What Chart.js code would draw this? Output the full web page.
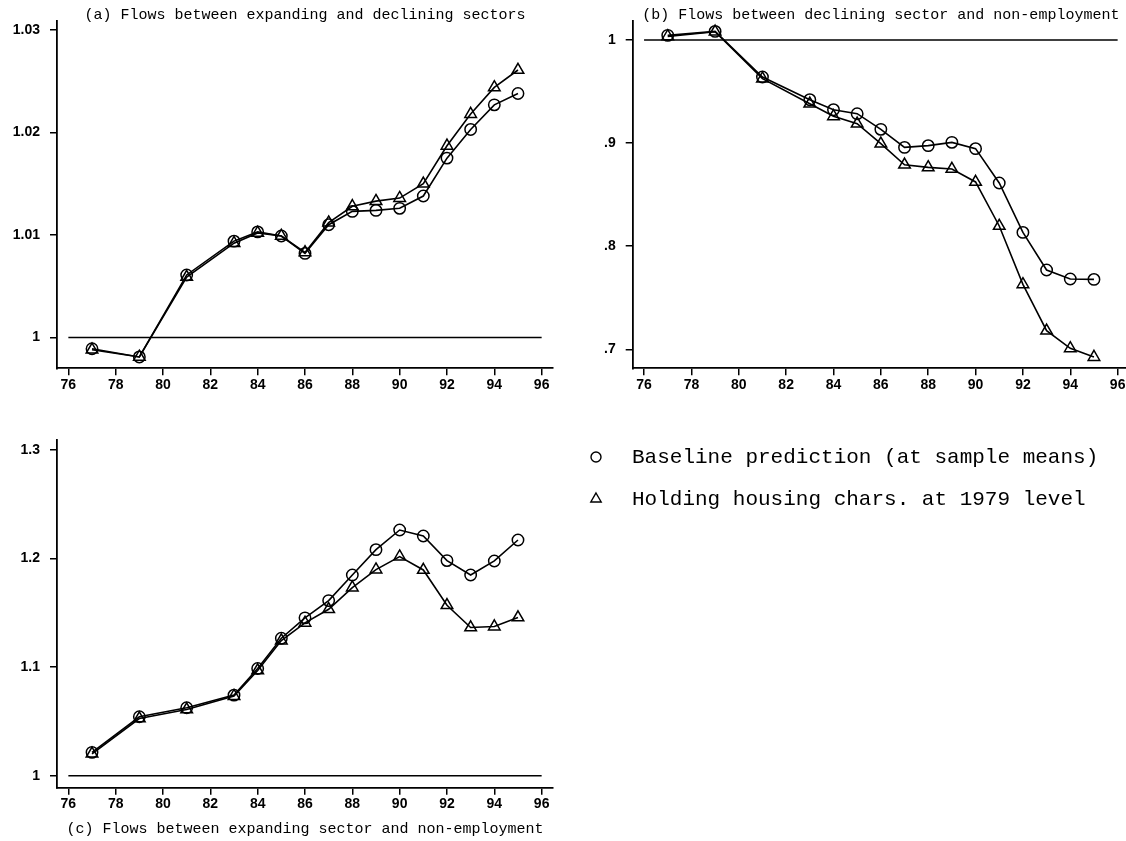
<!DOCTYPE html>
<html>
<head>
<meta charset="utf-8">
<script src="https://cdn.jsdelivr.net/npm/chart.js@4.4.1/dist/chart.umd.min.js"></script>
<style>
  html, body { margin: 0; padding: 0; background: #fff; }
  body { width: 1126px; height: 841px; overflow: hidden; position: relative; }
  canvas { position: absolute; }
  #panelA { left: 0; top: 0; }
  #panelB { left: 580px; top: 0; }
  #panelC { left: 0; top: 420px; }
  #legendBox { left: 570px; top: 420px; }
</style>
</head>
<body>
<canvas id="panelA" width="604" height="400"></canvas>
<canvas id="panelB" width="598" height="400"></canvas>
<canvas id="panelC" width="604" height="421"></canvas>
<canvas id="legendBox" width="556" height="120"></canvas>
<script>
// Survey years
const years = [77, 79, 81, 83, 84, 85, 86, 87, 88, 89, 90, 91, 92, 93, 94, 95];

// Series labels
const seriesLabels = ['Baseline prediction (at sample means)', 'Holding housing chars. at 1979 level'];

// (a) expanding <-> declining sectors
const aBaseline = [0.9989, 0.9981, 1.0061, 1.0094, 1.0103, 1.0099, 1.0082, 1.0110, 1.0123, 1.0124, 1.0126, 1.0138, 1.0175, 1.0203, 1.0227, 1.0238];
const aHousing  = [0.9988, 0.9981, 1.0059, 1.0092, 1.0102, 1.0099, 1.0083, 1.0112, 1.0128, 1.0133, 1.0136, 1.0150, 1.0187, 1.0218, 1.0244, 1.0261];

// (b) declining sector <-> non-employment
const bBaseline = [1.0045, 1.0083, 0.9641, 0.9421, 0.9324, 0.9285, 0.9133, 0.8958, 0.8975, 0.9007, 0.8946, 0.8613, 0.8134, 0.7769, 0.7682, 0.7678];
const bHousing  = [1.0035, 1.0080, 0.9625, 0.9382, 0.9260, 0.9188, 0.8994, 0.8790, 0.8764, 0.8749, 0.8623, 0.8196, 0.7630, 0.7180, 0.7009, 0.6925];

// (c) expanding sector <-> non-employment
const cBaseline = [1.0215, 1.0543, 1.0626, 1.0742, 1.0987, 1.1266, 1.1454, 1.1613, 1.1849, 1.2082, 1.2263, 1.2208, 1.1981, 1.1849, 1.1978, 1.2171];
const cHousing  = [1.0202, 1.0527, 1.0610, 1.0733, 1.0969, 1.1245, 1.1408, 1.1533, 1.1733, 1.1898, 1.2018, 1.1895, 1.1570, 1.1365, 1.1374, 1.1457];

// Reference level
const refLevel = 1;
const refSpan = [76, 96];

// Tick values and labels
const xTicks  = [76, 78, 80, 82, 84, 86, 88, 90, 92, 94, 96];
const xLabels = ['76', '78', '80', '82', '84', '86', '88', '90', '92', '94', '96'];
const yTicksA  = [1, 1.01, 1.02, 1.03];
const yLabelsA = ['1', '1.01', '1.02', '1.03'];
const yTicksB  = [0.7, 0.8, 0.9, 1];
const yLabelsB = ['.7', '.8', '.9', '1'];
const yTicksC  = [1, 1.1, 1.2, 1.3];
const yLabelsC = ['1', '1.1', '1.2', '1.3'];

// Panel titles
const titleA = '(a) Flows between expanding and declining sectors';
const titleB = '(b) Flows between declining sector and non-employment';
const titleC = '(c) Flows between expanding sector and non-employment';

const INK = '#000';
const TICK_FONT = { family: '"Liberation Sans", Arial, sans-serif', size: 14, weight: 'bold' };
const TITLE_FONT = { family: '"Liberation Mono", "DejaVu Sans Mono", monospace', size: 15, weight: 'normal', lineHeight: 1.2 };

function pts(vals) {
  return years.map((yr, i) => ({ x: yr, y: vals[i] }));
}

function makePanel(id, p) {
  return new Chart(document.getElementById(id), {
    type: 'line',
    data: {
      datasets: [
        {
          label: seriesLabels[0],
          data: pts(p.base),
          borderColor: INK, borderWidth: 1.6,
          pointStyle: 'circle', pointRadius: 5.7,
          pointBorderColor: INK, pointBorderWidth: 1.5,
          pointBackgroundColor: 'rgba(0,0,0,0)',
          tension: 0
        },
        {
          label: seriesLabels[1],
          data: pts(p.hold),
          borderColor: INK, borderWidth: 1.6,
          pointStyle: 'triangle', pointRadius: 6.7,
          pointBorderColor: INK, pointBorderWidth: 1.5,
          pointBackgroundColor: 'rgba(0,0,0,0)',
          tension: 0
        },
        {
          label: 'ref',
          data: refSpan.map(x => ({ x: x, y: refLevel })),
          borderColor: INK, borderWidth: 1.6,
          pointRadius: 0
        }
      ]
    },
    options: {
      responsive: false,
      animation: false,
      events: [],
      layout: { padding: p.pad },
      plugins: {
        legend: { display: false },
        tooltip: { enabled: false }
      },
      scales: {
        x: {
          type: 'linear',
          position: 'bottom',
          min: 75.52, max: 96.48,
          afterBuildTicks: s => { s.ticks = xTicks.map(v => ({ value: v })); },
          afterFit: s => { s.height = p.xHeight; },
          ticks: {
            color: INK, font: TICK_FONT, padding: 1,
            maxRotation: 0, autoSkip: false,
            callback: (v, i) => xLabels[i]
          },
          grid: { display: true, drawOnChartArea: false, drawTicks: true, tickLength: 7, color: INK, lineWidth: 1.5 },
          border: { display: true, color: INK, width: 1.8 }
        },
        // carries the panel heading, centred over the plot region
        heading: {
          type: 'linear',
          axis: 'x',
          position: p.titlePos,
          weight: 10,
          min: 0, max: 1,
          afterFit: s => { s.height = p.titleHeight; },
          ticks: { display: false },
          grid: { display: false, drawTicks: false },
          border: { display: false },
          title: {
            display: true,
            text: p.title,
            color: INK,
            font: TITLE_FONT,
            padding: p.titlePad
          }
        },
        y: {
          type: 'linear',
          min: p.ymin, max: p.ymax,
          afterBuildTicks: s => { s.ticks = p.yTicks.map(v => ({ value: v })); },
          afterFit: s => { s.width = p.yWidth; },
          ticks: {
            color: INK, font: TICK_FONT, padding: 10,
            autoSkip: false,
            callback: (v, i) => p.yLabels[i]
          },
          grid: { display: true, drawOnChartArea: false, drawTicks: true, tickLength: 7, color: INK, lineWidth: 1.5 },
          border: { display: true, color: INK, width: 1.8 }
        }
      }
    }
  });
}

makePanel('panelA', {
  base: aBaseline, hold: aHousing,
  yTicks: yTicksA, yLabels: yLabelsA,
  ymin: 0.99699, ymax: 1.03091,
  title: titleA, titlePos: 'top', titlePad: { top: 6, bottom: 0 }, titleHeight: 20.7,
  pad: { left: 0, right: 51, top: 0, bottom: 0 },
  yWidth: 57, xHeight: 31.7
});

makePanel('panelB', {
  base: bBaseline, hold: bHousing,
  yTicks: yTicksB, yLabels: yLabelsB,
  ymin: 0.68157, ymax: 1.0187,
  title: titleB, titlePos: 'top', titlePad: { top: 6, bottom: 0 }, titleHeight: 20.7,
  pad: { left: 0, right: 49, top: 0, bottom: 0 },
  yWidth: 52.7, xHeight: 31.7
});

makePanel('panelC', {
  base: cBaseline, hold: cHousing,
  yTicks: yTicksC, yLabels: yLabelsC,
  ymin: 0.98895, ymax: 1.3092,
  title: titleC, titlePos: 'bottom', titlePad: { top: 0, bottom: 2.7 }, titleHeight: 25.3,
  pad: { left: 0, right: 51, top: 20, bottom: 0 },
  yWidth: 57, xHeight: 28
});

// Marker key drawn from the series definitions
const markerKey = {
  id: 'markerKey',
  afterDraw(chart, args, opts) {
    const ctx = chart.ctx;
    ctx.save();
    chart.data.datasets.forEach((ds, i) => {
      const y = opts.firstY + i * opts.step;
      ctx.strokeStyle = INK;
      ctx.fillStyle = 'rgba(0,0,0,0)';
      ctx.lineWidth = 1.4;
      Chart.helpers.drawPoint(ctx, { pointStyle: ds.pointStyle, radius: ds.keyRadius, borderWidth: 1.4, rotation: 0 }, opts.markerX, y);
      ctx.fillStyle = INK;
      ctx.font = '21px "Liberation Mono", "DejaVu Sans Mono", monospace';
      ctx.textAlign = 'left';
      ctx.textBaseline = 'middle';
      ctx.fillText(ds.label, opts.textX, y);
    });
    ctx.restore();
  }
};

new Chart(document.getElementById('legendBox'), {
  type: 'line',
  data: {
    datasets: [
      { label: seriesLabels[0], pointStyle: 'circle', keyRadius: 5, data: [] },
      { label: seriesLabels[1], pointStyle: 'triangle', keyRadius: 6, data: [] }
    ]
  },
  options: {
    responsive: false,
    animation: false,
    events: [],
    scales: { x: { display: false }, y: { display: false } },
    plugins: {
      legend: { display: false },
      tooltip: { enabled: false },
      markerKey: { markerX: 26, textX: 62, firstY: 37, step: 42 }
    }
  },
  plugins: [markerKey]
});
</script>
</body>
</html>
